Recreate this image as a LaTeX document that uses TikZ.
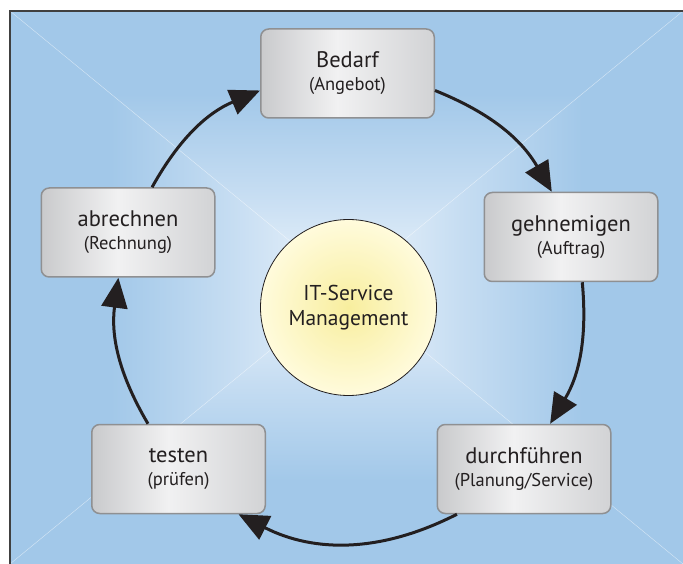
\documentclass[tikz,border=0pt]{standalone}
\usepackage[dvipsnames]{xcolor}
\usepackage{fontspec}
\setmainfont{PT Sans}
\usepackage{tikz}
\usetikzlibrary{arrows.meta}

\definecolor{bgblue}{HTML}{A2C8E9}
\definecolor{bgmid}{HTML}{C6DDF2}
\definecolor{bgwhite}{HTML}{EDF5FC}
\definecolor{boxL}{HTML}{C9CACC}
\definecolor{boxH}{HTML}{F1F1F2}
\definecolor{boxR}{HTML}{D2D3D5}
\definecolor{boxline}{HTML}{8F9092}
\definecolor{ink}{HTML}{231F20}
\definecolor{sunin}{HTML}{F8EE9E}
\definecolor{sunout}{HTML}{FFFBDC}

\pgfdeclareverticalshading{bgfade}{100bp}{color(0bp)=(bgwhite); color(25bp)=(bgwhite); color(42bp)=(bgmid); color(60bp)=(bgblue); color(100bp)=(bgblue)}
\pgfdeclarehorizontalshading{boxfade}{100bp}{color(0bp)=(boxL); color(25bp)=(boxL); color(47bp)=(boxH); color(75bp)=(boxR); color(100bp)=(boxR)}

\newcommand{\subline}[1]{{\fontsize{18.5}{20}\selectfont #1}}

\begin{document}
\begin{tikzpicture}[x=1pt, y=-1pt,
	stage/.style={draw=boxline, line width=1.5pt, rounded corners=8pt, shading=boxfade, minimum width=173.5pt, minimum height=89pt, align=center, text=ink, font=\fontsize{22.5}{23}\selectfont},
	flow/.style={-{Triangle[length=30pt, width=26pt]}, line width=3pt, draw=ink}]
	\useasboundingbox (0,0) rectangle (683,564);
	\shade[shading=bgfade] (10,11) -- (683,11) -- (346.5,287.5) -- cycle;
	\shade[shading=bgfade, shading angle=90] (10,11) -- (10,564) -- (346.5,287.5) -- cycle;
	\shade[shading=bgfade, shading angle=180] (10,564) -- (683,564) -- (346.5,287.5) -- cycle;
	\shade[shading=bgfade, shading angle=270] (683,11) -- (683,564) -- (346.5,287.5) -- cycle;
	\draw[white, opacity=.35, line width=.6pt] (10,11) -- (683,564) (683,11) -- (10,564);
	\draw[line width=1.2pt, black!75] (10,564) -- (10,11) -- (683,11);

	\node[stage] (bedarf) at (347.5,73.5) {Bedarf\\\subline{(Angebot)}};
	\node[stage] (genehmigen) at (571,237) {gehnemigen\\\subline{(Auftrag)}};
	\node[stage] (durchfuehren) at (524,469) {durchführen\\\subline{(Planung/Service)}};
	\node[stage] (testen) at (178.5,469) {testen\\\subline{(prüfen)}};
	\node[stage] (abrechnen) at (128,232.5) {abrechnen\\\subline{(Rechnung)}};
	\node[circle, draw=ink, line width=.8pt, inner color=sunin, outer color=sunout, minimum size=176pt, text=ink, align=center, font=\fontsize{21.5}{25}\selectfont] (itsm) at (348.5,307.5) {IT-Service\\Management};

	\draw[flow] (bedarf.-11) to[bend left=19] (genehmigen.113);
	\draw[flow] (genehmigen.-76) to[bend left=18] (durchfuehren.60);
	\draw[flow] (durchfuehren.-146) to[bend left=27] (testen.-37);
	\draw[flow] (testen.124) to[bend left=19] (abrechnen.-102);
	\draw[flow] (abrechnen.62) to[bend left=19] (bedarf.191);
\end{tikzpicture}
\end{document}
